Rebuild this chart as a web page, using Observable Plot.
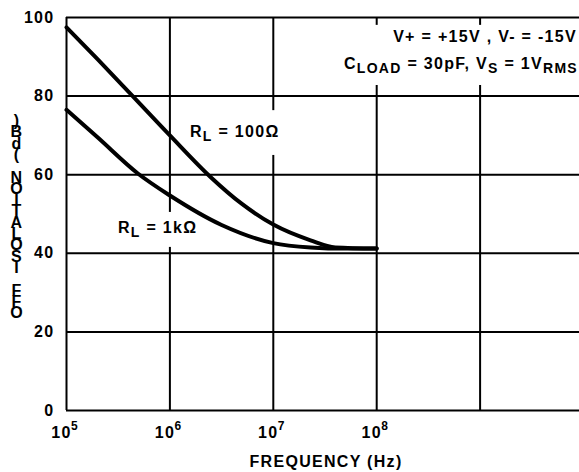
<!DOCTYPE html>
<html><head><meta charset="utf-8">
<script src="https://cdn.jsdelivr.net/npm/d3@7"></script>
<script src="https://cdn.jsdelivr.net/npm/@observablehq/plot@0.6"></script>
<style>
body{margin:0;background:#fff}
svg{display:block}
svg text{letter-spacing:1.3px}
</style>
</head><body><div id="chart"></div>
<script>
// Data (log10 of frequency in Hz, isolation in dB)
const freqExp100 = [5, 5.3, 5.64, 6, 6.39, 6.7, 7, 7.36, 7.6, 8];
const iso100     = [97.5, 89.4, 80, 70, 59.5, 52.5, 47.3, 43.3, 41.5, 41.2];
const freqExp1k  = [5, 5.3, 5.69, 6, 6.5, 7, 7.36, 7.7, 8];
const iso1k      = [76.5, 69.5, 60.3, 54.7, 47.2, 42.6, 41.5, 41.2, 41.2];
const xGridExps  = [5, 6, 7, 8, 9];
const xLabelExps = [5, 6, 7, 8];
const yTicks     = [0, 20, 40, 60, 80, 100];
const yTitle     = "OFF ISOLATION (dB)";
const xTitle     = "FREQUENCY (Hz)";

const s100 = freqExp100.map((e, i) => ({f: 10 ** e, db: iso100[i]}));
const s1k  = freqExp1k.map((e, i) => ({f: 10 ** e, db: iso1k[i]}));

const font = "'Liberation Sans', Arial, Helvetica, sans-serif";

const chart = Plot.plot({
  width: 579, height: 472,
  marginLeft: 66, marginRight: 0, marginTop: 17, marginBottom: 62,
  x: {type: "log", domain: [1e5, 1e10], range: [66, 583], axis: null},
  y: {domain: [0, 100], range: [410, 17], axis: null},
  style: {fontFamily: font, fontWeight: "bold", background: "white", color: "black"},
  marks: [
    Plot.ruleY(yTicks, {x1: 1e5, x2: 1e10, stroke: "black", strokeWidth: 2}),
    Plot.ruleX(xGridExps.map(e => 10 ** e), {y1: 0, y2: 100, stroke: "black", strokeWidth: 2}),
    // white label backgrounds interrupting the grid
    Plot.rect([0], {x1: 10 ** 7.96, x2: 1e10, y1: 82.7, y2: 98, fill: "white"}),
    Plot.rect([0], {x1: 10 ** 6.13, x2: 10 ** 7.12, y1: 64.9, y2: 76.3, fill: "white"}),
    Plot.rect([0], {x1: 10 ** 5.45, x2: 10 ** 6.30, y1: 41.5, y2: 50.4, fill: "white"}),
    Plot.line(s100, {x: "f", y: "db", stroke: "black", strokeWidth: 4, curve: "monotone-x"}),
    Plot.line(s1k, {x: "f", y: "db", stroke: "black", strokeWidth: 4, curve: "monotone-x"}),
    Plot.text(yTicks, {x: 1e5, y: d => d, text: d => String(d), textAnchor: "end", dx: -12, fontSize: 16}),
    Plot.text(xLabelExps, {x: e => 10 ** e, y: 0, text: () => "10", dx: -5, dy: 22, fontSize: 16}),
    Plot.text(xLabelExps, {x: e => 10 ** e, y: 0, text: e => String(e), dx: 8.5, dy: 16, fontSize: 12})
  ]
});
document.getElementById("chart").appendChild(chart);

const svg = d3.select(chart);
const g = svg.append("g").attr("font-family", font).attr("font-weight", "bold").attr("fill", "black");

// x-axis title
g.append("text").attr("x", 326).attr("y", 467).attr("text-anchor", "middle")
  .attr("font-size", 16).text(xTitle);

// y-axis title rendered as stacked characters (as in reference)
Array.from(yTitle).reverse().forEach((c, i) => {
  g.append("text").attr("x", 17).attr("y", 126 + i * 11.3).attr("text-anchor", "middle")
    .attr("font-size", 16).text(c);
});

function richText(x, y, anchor, parts) {
  const t = g.append("text").attr("x", x).attr("y", y).attr("text-anchor", anchor).attr("font-size", 16);
  let shifted = 0;
  parts.forEach(([str, sub]) => {
    const target = sub ? 4 : 0;
    t.append("tspan").attr("dy", target - shifted).attr("font-size", sub ? 14 : 16).text(str);
    shifted = target;
  });
  return t;
}

richText(577, 42, "end", [["V+ = +15V , V- = -15V", false]]);
richText(578, 69, "end", [["C", false], ["LOAD", true], [" = 30pF, V", false], ["S", true], [" = 1V", false], ["RMS", true]]);
richText(190, 137, "start", [["R", false], ["L", true], [" = 100\u03A9", false]]);
richText(118, 233, "start", [["R", false], ["L", true], [" = 1k\u03A9", false]]);
</script>
</body></html>
